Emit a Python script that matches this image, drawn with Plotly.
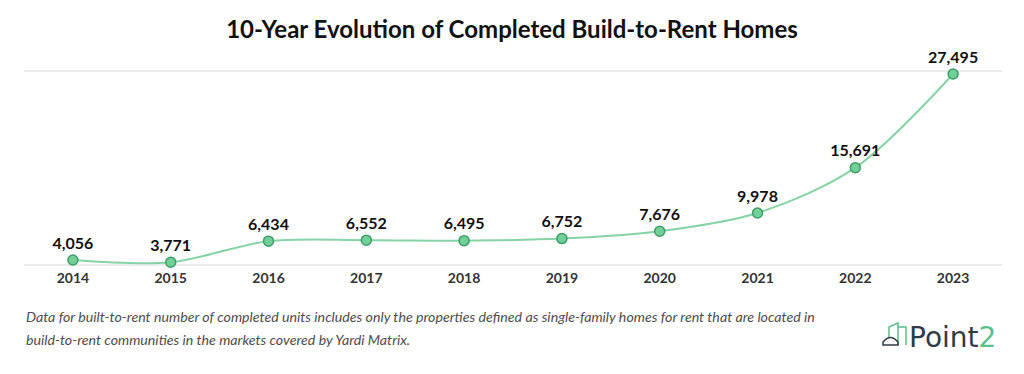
import plotly.graph_objects as go

years = ["2014", "2015", "2016", "2017", "2018", "2019", "2020", "2021", "2022", "2023"]
completed = [4056, 3771, 6434, 6552, 6495, 6752, 7676, 9978, 15691, 27495]
labels = [f"{v:,}" for v in completed]

title = "10-Year Evolution of Completed Build-to-Rent Homes"
note1 = "Data for built-to-rent number of completed units includes only the properties defined as single-family homes for rent that are located in"
note2 = "build-to-rent communities in the markets covered by Yardi Matrix."

W, H = 1024, 374
L, R, T, B = 24, 22, 71, 109
PW, PH = W - L - R, H - T - B

def px(x):
    return (x - L) / PW

def py(y):
    return (H - B - y) / PH

fig = go.Figure()
fig.add_trace(go.Scatter(
    x=years, y=completed, mode="lines+markers+text",
    text=["<b>" + t + "</b>" for t in labels], textposition="top center",
    textfont=dict(family="Lato", size=16, color="#111111"),
    line=dict(color="#86d3a6", width=2, shape="spline", smoothing=0.9),
    marker=dict(size=10, color="#72cf98", line=dict(color="#3d9f66", width=1.5)),
    cliponaxis=False, hoverinfo="skip", showlegend=False,
))

fig.update_layout(
    width=W, height=H,
    margin=dict(l=L, r=R, t=T, b=B, autoexpand=False),
    paper_bgcolor="white", plot_bgcolor="white",
    font=dict(family="Lato", color="#222222"),
    title=dict(text="<b>" + title + "</b>", x=0.5, xanchor="center", y=1 - 30 / H, yanchor="middle",
               font=dict(family="Lato", size=24, color="#111111")),
    xaxis=dict(type="category", showgrid=False, zeroline=False, showline=False, automargin=False,
               ticks="", ticklabelstandoff=3, tickfont=dict(family="Lato", size=14, color="#333333"),
               tickprefix="<b>", ticksuffix="</b>", range=[-0.5, 9.5]),
    yaxis=dict(range=[3426, 27873], showticklabels=False, automargin=False,
               showgrid=False, zeroline=False, showline=False),
)

for yv in (0, 1):
    fig.add_shape(type="line", xref="paper", yref="paper", x0=0, x1=1, y0=yv, y1=yv,
                  line=dict(color="#e4e4e4", width=1.5), layer="below")

fig.add_annotation(text="<i>" + note1 + "</i>", xref="paper", yref="paper",
                   x=px(24), y=py(316), xanchor="left", yanchor="middle", showarrow=False,
                   font=dict(family="Lato", size=14.2, color="#4d4d4d"))
fig.add_annotation(text="<i>" + note2 + "</i>", xref="paper", yref="paper",
                   x=px(24), y=py(339), xanchor="left", yanchor="middle", showarrow=False,
                   font=dict(family="Lato", size=14.2, color="#4d4d4d"))

# Logo
fig.add_annotation(text="<span style='color:#2f3b45'>Point</span><span style='color:#5cbf8b'>2</span>",
                   xref="paper", yref="paper", x=px(907), y=py(337), xanchor="left", yanchor="middle",
                   showarrow=False, font=dict(family="DejaVu Sans", size=28))
fig.add_shape(type="path", xref="paper", yref="paper",
              path=(f"M {px(889)},{py(345)} L {px(889)},{py(327)} L {px(898)},{py(323)} L {px(898)},{py(345)} "
                    f"M {px(898)},{py(327)} L {px(906)},{py(327)} L {px(906)},{py(345)}"),
              line=dict(color="#5cbf8b", width=1.5))
fig.add_shape(type="path", xref="paper", yref="paper",
              path=f"M {px(883)},{py(345)} L {px(883)},{py(342)} Q {px(890.5)},{py(333)} {px(898)},{py(342)} L {px(898)},{py(345)} Z",
              line=dict(color="#2f3b45", width=1.5), fillcolor="white")

fig.write_html("out.html", config={"displayModeBar": False, "staticPlot": True},
               post_script="document.body.style.margin='0';document.body.style.overflow='hidden';")
